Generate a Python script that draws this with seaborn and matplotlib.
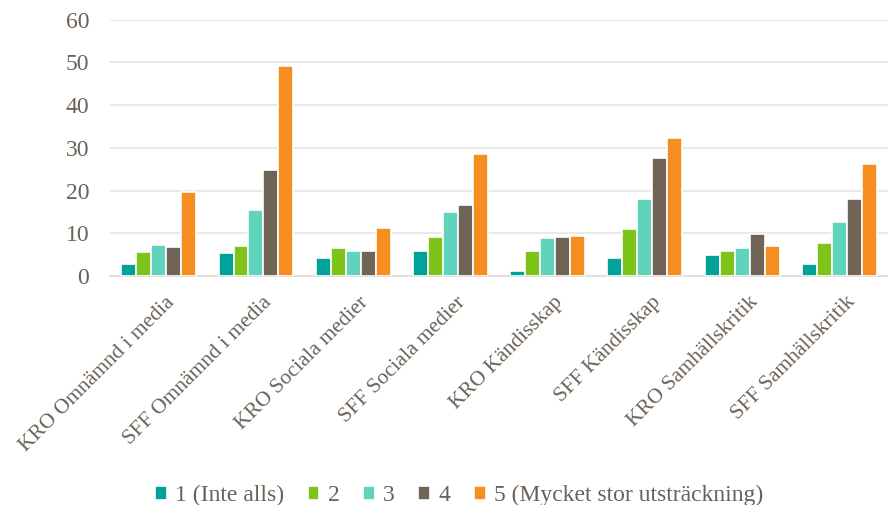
import pandas as pd
import matplotlib.pyplot as plt
import matplotlib.transforms as mtransforms
import seaborn as sns

categories = ['KRO Omnämnd i media', 'SFF Omnämnd i media', 'KRO Sociala medier',
              'SFF Sociala medier', 'KRO Kändisskap', 'SFF Kändisskap',
              'KRO Samhällskritik', 'SFF Samhällskritik']
levels = ['1 (Inte alls)', '2', '3', '4', '5 (Mycket stor utsträckning)']

v1 = [2.9, 5.5, 4.3, 5.9, 1.3, 4.3, 4.9, 2.9]
v2 = [5.7, 7.0, 6.5, 9.2, 5.8, 11.1, 5.8, 7.7]
v3 = [7.4, 15.6, 5.8, 15.0, 9.0, 18.0, 6.5, 12.7]
v4 = [6.9, 24.9, 5.9, 16.7, 9.2, 27.6, 9.9, 18.0]
v5 = [19.6, 49.1, 11.3, 28.5, 9.3, 32.3, 7.1, 26.2]

colors = ['#00A29A', '#7DC31A', '#60D3BD', '#6F6456', '#F68D21']
text_col = '#6B6157'

rows = []
for lvl, vals in zip(levels, [v1, v2, v3, v4, v5]):
    for cat, v in zip(categories, vals):
        rows.append({'kategori': cat, 'niva': lvl, 'andel': v})
df = pd.DataFrame(rows)

sns.set_style('white')
plt.rcParams['font.family'] = ['Liberation Serif', 'DejaVu Serif']

fig = plt.figure(figsize=(8.88, 5.05), dpi=100)
ax = fig.add_axes([0.124, 0.453, 0.876, 0.508])

sns.barplot(data=df, x='kategori', y='andel', hue='niva', hue_order=levels,
            order=categories, palette=colors, width=0.77, edgecolor='white',
            linewidth=1.2, saturation=1, errorbar=None, ax=ax, zorder=3)

ax.set_xlim(-0.5, 7.5)
ax.set_ylim(0, 60)
ax.set_yticks(range(0, 61, 10))
ax.yaxis.grid(True, color='#E8E4E1', linewidth=1.2, zorder=0)
ax.set_axisbelow(True)
for s in ['top', 'right', 'left']:
    ax.spines[s].set_visible(False)
ax.spines['bottom'].set_color('#E0DCD8')
ax.spines['bottom'].set_linewidth(1.2)
ax.set_xlabel('')
ax.set_ylabel('')
ax.tick_params(axis='both', length=0, colors=text_col)
ax.tick_params(axis='y', pad=15, labelsize=17)
ax.tick_params(axis='x', pad=12, labelsize=15.5)

shift = mtransforms.ScaledTranslation(6 / 100, 0, fig.dpi_scale_trans)
for lab in ax.get_xticklabels():
    lab.set_rotation(45)
    lab.set_ha('right')
    lab.set_va('top')
    lab.set_rotation_mode('anchor')
    lab.set_transform(lab.get_transform() + shift)

handles, labels = ax.get_legend_handles_labels()
ax.legend_.remove()
fig.legend(handles, labels, loc='lower center', bbox_to_anchor=(0.517, -0.045),
           ncol=5, frameon=False, fontsize=17, handlelength=0.5, handleheight=0.5,
           handletextpad=0.35, columnspacing=1.0, labelcolor=text_col)

fig.savefig('out.png', dpi=100)
